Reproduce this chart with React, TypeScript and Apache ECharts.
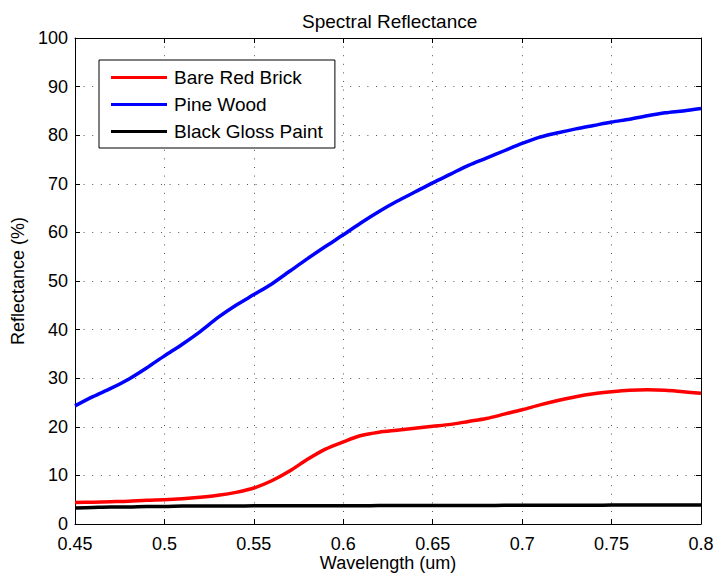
import React, { useEffect, useRef } from "react";
import * as echarts from "echarts";

const wavelengths = [
  0.45, 0.46, 0.47, 0.48, 0.49, 0.5, 0.51, 0.52, 0.53, 0.54, 0.55, 0.56,
  0.57, 0.58, 0.59, 0.6, 0.61, 0.62, 0.63, 0.64, 0.65, 0.66, 0.67, 0.68,
  0.69, 0.7, 0.71, 0.72, 0.73, 0.74, 0.75, 0.76, 0.77, 0.78, 0.79, 0.8,
];
const brick = [
  4.4, 4.5, 4.6, 4.7, 4.9, 5.0, 5.2, 5.5, 5.9, 6.5, 7.4, 8.9, 10.9, 13.3,
  15.4, 16.9, 18.2, 18.9, 19.3, 19.7, 20.1, 20.5, 21.1, 21.7, 22.6, 23.5,
  24.5, 25.4, 26.2, 26.8, 27.2, 27.5, 27.6, 27.5, 27.2, 26.9,
];
const pine = [
  24.3, 26.2, 27.9, 29.8, 32.1, 34.6, 37.0, 39.6, 42.5, 45.0, 47.2, 49.4,
  52.0, 54.6, 57.1, 59.5, 62.0, 64.3, 66.4, 68.3, 70.2, 72.0, 73.8, 75.3,
  76.8, 78.3, 79.6, 80.5, 81.3, 82.0, 82.7, 83.3, 84.0, 84.6, 85.0, 85.5,
];
const paint = [
  3.3, 3.4, 3.5, 3.5, 3.6, 3.6, 3.7, 3.7, 3.7, 3.7, 3.75, 3.75, 3.75, 3.75,
  3.75, 3.75, 3.75, 3.8, 3.8, 3.8, 3.8, 3.8, 3.8, 3.8, 3.85, 3.85, 3.85,
  3.85, 3.85, 3.85, 3.9, 3.9, 3.9, 3.9, 3.9, 3.9,
];
const seriesNames = ["Bare Red Brick", "Pine Wood", "Black Gloss Paint"];
const seriesColors = ["#ff0000", "#0000ff", "#000000"];
const seriesValues = [brick, pine, paint];

const FONT = '"Liberation Sans", Arial, Helvetica, sans-serif';

export default function App() {
  const ref = useRef<HTMLDivElement>(null);
  useEffect(() => {
    if (!ref.current) return;
    const chart = echarts.init(ref.current, null, { renderer: "svg" });
    const grid = {
      left: 75,
      right: 15,
      top: 38,
      bottom: 49,
      containLabel: false,
      outerBoundsMode: "none",
    };
    const splitLine = {
      show: true,
      lineStyle: { color: "#555", width: 1, type: [1, 7.6] as any },
    };
    const fmtX = (v: number) => String(Math.round(v * 100) / 100);
    chart.setOption({
      animation: false,
      backgroundColor: "#ffffff",
      textStyle: { fontFamily: FONT },
      title: {
        text: "Spectral Reflectance",
        left: 297,
        top: 7,
        textStyle: {
          fontFamily: FONT,
          fontSize: 19,
          fontWeight: "normal",
          color: "#000",
        },
      },
      legend: {
        data: seriesNames,
        orient: "vertical",
        left: 99,
        top: 60,
        icon: "rect",
        itemWidth: 56,
        itemHeight: 3,
        itemGap: 8,
        padding: [8, 12, 7, 12],
        backgroundColor: "#ffffff",
        borderColor: "#000",
        borderWidth: 1,
        borderRadius: 0,
        textStyle: {
          fontFamily: FONT,
          fontSize: 19,
          color: "#000",
          lineHeight: 19,
          padding: [0, 0, 0, 2],
        },
      },
      grid,
      xAxis: [
        {
          type: "value",
          min: 0.45,
          max: 0.8,
          interval: 0.05,
          name: "Wavelength (um)",
          nameLocation: "middle",
          nameGap: 30,
          nameMoveOverlap: false,
          nameTextStyle: { fontFamily: FONT, fontSize: 18, color: "#000" },
          axisLine: { show: true, onZero: false, lineStyle: { color: "#000", width: 1 } },
          axisTick: { show: true, inside: true, length: 5, lineStyle: { color: "#000" } },
          axisLabel: {
            fontFamily: FONT,
            fontSize: 18,
            lineHeight: 15,
            color: "#000",
            margin: 12,
            formatter: fmtX,
          },
          splitLine,
        },
        {
          type: "value",
          position: "top",
          min: 0.45,
          max: 0.8,
          interval: 0.05,
          axisLine: { show: true, onZero: false, lineStyle: { color: "#000", width: 1 } },
          axisTick: { show: true, inside: true, length: 5, lineStyle: { color: "#000" } },
          axisLabel: { show: false },
          splitLine: { show: false },
        },
      ],
      yAxis: [
        {
          type: "value",
          min: 0,
          max: 100,
          interval: 10,
          name: "Reflectance (%)",
          nameLocation: "middle",
          nameGap: 48,
          nameMoveOverlap: false,
          nameTextStyle: { fontFamily: FONT, fontSize: 18, color: "#000" },
          axisLine: { show: true, onZero: false, lineStyle: { color: "#000", width: 1 } },
          axisTick: { show: true, inside: true, length: 5, lineStyle: { color: "#000" } },
          axisLabel: {
            fontFamily: FONT,
            fontSize: 18,
            lineHeight: 15,
            color: "#000",
            margin: 7,
          },
          splitLine,
        },
        {
          type: "value",
          position: "right",
          min: 0,
          max: 100,
          interval: 10,
          axisLine: { show: true, onZero: false, lineStyle: { color: "#000", width: 1 } },
          axisTick: { show: true, inside: true, length: 5, lineStyle: { color: "#000" } },
          axisLabel: { show: false },
          splitLine: { show: false },
        },
      ],
      series: seriesNames.map((name, i) => ({
        name,
        type: "line",
        xAxisIndex: 0,
        yAxisIndex: 0,
        data: wavelengths.map((w, j) => [w, seriesValues[i][j]]),
        showSymbol: false,
        smooth: 0.3,
        color: seriesColors[i],
        lineStyle: { color: seriesColors[i], width: 3.5 },
        emphasis: { disabled: true },
      })),
    });
    return () => chart.dispose();
  }, []);
  return (
    <div
      ref={ref}
      style={{ position: "absolute", left: 0, top: 0, width: 716, height: 573 }}
    />
  );
}
